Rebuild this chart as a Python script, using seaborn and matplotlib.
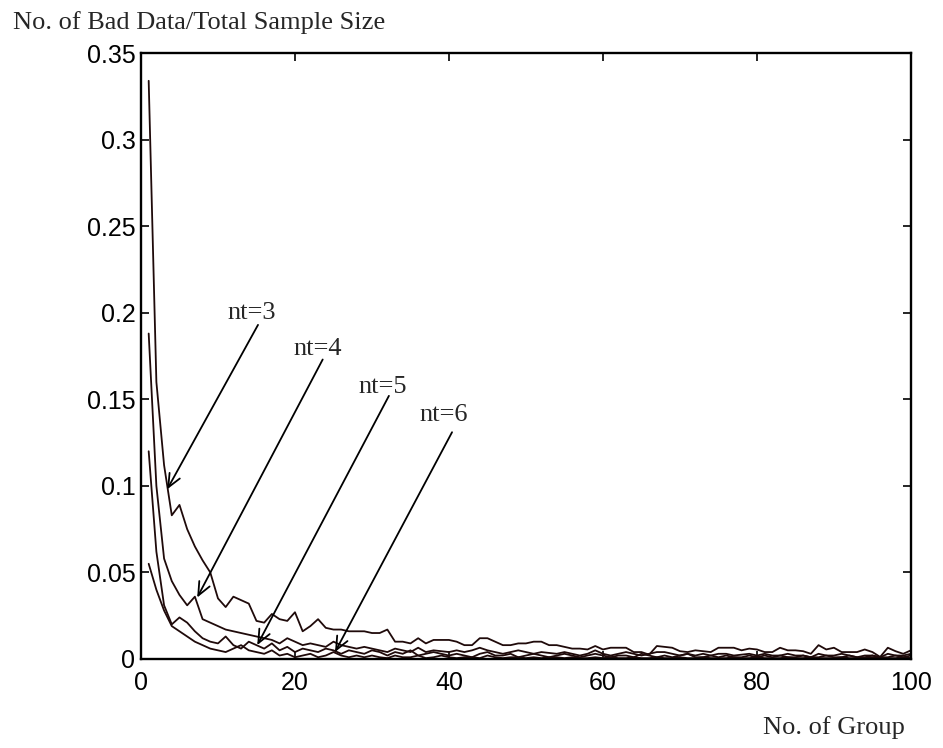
import pandas as pd
import matplotlib
matplotlib.use("Agg")
import matplotlib.pyplot as plt
import seaborn as sns

# ratio of bad data vs. number of groups, one series per nt
groups = list(range(1, 101))

nt3 = [0.334, 0.160, 0.112, 0.083, 0.089, 0.075, 0.065, 0.057, 0.050, 0.035,
       0.030, 0.036, 0.034, 0.032, 0.022, 0.021, 0.026, 0.023, 0.022, 0.027,
       0.016, 0.019, 0.023, 0.018, 0.017, 0.017, 0.016, 0.016, 0.016, 0.015,
       0.015, 0.017, 0.010, 0.010, 0.009, 0.012, 0.009, 0.011, 0.011, 0.011,
       0.010, 0.008, 0.008, 0.012, 0.012, 0.010, 0.008, 0.008, 0.009, 0.009,
       0.010, 0.010, 0.008, 0.008, 0.007, 0.006, 0.006, 0.0055, 0.0075, 0.0055,
       0.0065, 0.0065, 0.0065, 0.004, 0.004, 0.0025, 0.0075, 0.007, 0.0065, 0.0045,
       0.004, 0.005, 0.0045, 0.004, 0.0065, 0.0065, 0.0065, 0.005, 0.006, 0.0055,
       0.004, 0.004, 0.0065, 0.005, 0.005, 0.0045, 0.003, 0.008, 0.0055, 0.0065,
       0.004, 0.004, 0.004, 0.0055, 0.004, 0.0012, 0.0065, 0.0045, 0.003, 0.005]

nt4 = [0.188, 0.100, 0.058, 0.045, 0.037, 0.031, 0.036, 0.023, 0.021, 0.019,
       0.017, 0.016, 0.015, 0.014, 0.013, 0.012, 0.011, 0.009, 0.012, 0.010,
       0.008, 0.009, 0.008, 0.007, 0.010, 0.008, 0.007, 0.006, 0.007, 0.006,
       0.005, 0.004, 0.006, 0.005, 0.004, 0.0065, 0.004, 0.005, 0.0045, 0.004,
       0.005, 0.004, 0.005, 0.0065, 0.005, 0.004, 0.003, 0.004, 0.005, 0.004,
       0.003, 0.004, 0.0035, 0.003, 0.004, 0.003, 0.002, 0.003, 0.005, 0.003,
       0.002, 0.003, 0.004, 0.003, 0.002, 0.003, 0.004, 0.004, 0.003, 0.002,
       0.003, 0.002, 0.003, 0.002, 0.003, 0.003, 0.002, 0.0025, 0.003, 0.002,
       0.003, 0.002, 0.002, 0.003, 0.002, 0.002, 0.001, 0.003, 0.002, 0.002,
       0.003, 0.002, 0.001, 0.002, 0.002, 0.001, 0.003, 0.002, 0.002, 0.003]

nt5 = [0.120, 0.062, 0.031, 0.020, 0.024, 0.021, 0.016, 0.012, 0.010, 0.009,
       0.013, 0.008, 0.006, 0.010, 0.008, 0.006, 0.009, 0.005, 0.007, 0.004,
       0.006, 0.005, 0.004, 0.006, 0.005, 0.003, 0.005, 0.004, 0.003, 0.005,
       0.004, 0.002, 0.004, 0.003, 0.005, 0.002, 0.003, 0.004, 0.003, 0.002,
       0.003, 0.002, 0.001, 0.003, 0.004, 0.002, 0.002, 0.003, 0.001, 0.002,
       0.003, 0.002, 0.001, 0.002, 0.003, 0.002, 0.001, 0.002, 0.003, 0.002,
       0.001, 0.002, 0.002, 0.001, 0.003, 0.002, 0.001, 0.002, 0.001, 0.002,
       0.003, 0.001, 0.001, 0.002, 0.001, 0.002, 0.001, 0.001, 0.002, 0.001,
       0.002, 0.001, 0.002, 0.001, 0.001, 0.002, 0.001, 0.001, 0.002, 0.001,
       0.001, 0.002, 0.001, 0.001, 0.002, 0.001, 0.001, 0.002, 0.001, 0.002]

nt6 = [0.055, 0.040, 0.028, 0.019, 0.016, 0.013, 0.010, 0.008, 0.006, 0.005,
       0.004, 0.006, 0.008, 0.005, 0.004, 0.003, 0.005, 0.002, 0.003, 0.001,
       0.002, 0.003, 0.001, 0.002, 0.004, 0.002, 0.001, 0.002, 0.001, 0.002,
       0.001, 0.0005, 0.002, 0.001, 0.001, 0.002, 0.0005, 0.001, 0.002, 0.001,
       0.0005, 0.001, 0.001, 0.0005, 0.002, 0.001, 0.0005, 0.001, 0.001, 0.0005,
       0.001, 0.0005, 0.001, 0.001, 0.0005, 0.001, 0.0005, 0.0005, 0.001, 0.0005,
       0.001, 0.0005, 0.0005, 0.001, 0.0005, 0.0005, 0.001, 0.0005, 0.0005, 0.001,
       0.0005, 0.0005, 0.001, 0.0005, 0.0005, 0.0005, 0.001, 0.0005, 0.0005, 0.001,
       0.0005, 0.0005, 0.0005, 0.001, 0.0005, 0.0005, 0.001, 0.0005, 0.0005, 0.0005,
       0.001, 0.0005, 0.0005, 0.0005, 0.001, 0.0005, 0.0005, 0.0005, 0.001, 0.0005]

series_names = ["nt=3", "nt=4", "nt=5", "nt=6"]
# arrow tips on the curves and where the labels sit
arrow_tips = [(3.4, 0.098), (7.3, 0.0355), (15.1, 0.008), (25.2, 0.004)]
arrow_tails = [(15.2, 0.193), (23.6, 0.173), (32.2, 0.152), (40.4, 0.131)]
label_pos = [(14.4, 0.200), (22.9, 0.179), (31.4, 0.157), (39.3, 0.141)]

x_ticks = [0, 20, 40, 60, 80, 100]
y_ticks = [0, 0.05, 0.1, 0.15, 0.2, 0.25, 0.3, 0.35]
y_tick_labels = ["0", "0.05", "0.1", "0.15", "0.2", "0.25", "0.3", "0.35"]

df = pd.DataFrame({
    "group": groups * 4,
    "ratio": nt3 + nt4 + nt5 + nt6,
    "nt": [n for n in series_names for _ in groups],
})

sns.set_style("ticks")
plt.rcParams["font.family"] = ["Liberation Sans", "DejaVu Sans"]

line_col = "#1f0a0a"
serif = ["Liberation Serif", "DejaVu Serif"]

fig = plt.figure(figsize=(9.43, 7.48), dpi=100)
ax = fig.add_axes([0.1495, 0.119, 0.8165, 0.810])

sns.lineplot(data=df, x="group", y="ratio", hue="nt",
             palette=[line_col] * 4, linewidth=1.3, legend=False, ax=ax)

ax.set_xlim(0, 100)
ax.set_ylim(0, 0.35)
ax.set_xticks(x_ticks)
ax.set_xticklabels([str(t) for t in x_ticks])
ax.set_yticks(y_ticks)
ax.set_yticklabels(y_tick_labels)
ax.set_xlabel("")
ax.set_ylabel("")
ax.tick_params(direction="in", length=6, width=1.2, top=True, right=True,
               labelsize=18, colors="black")
ax.tick_params(axis="x", pad=9)
ax.tick_params(axis="y", pad=4)
for sp in ax.spines.values():
    sp.set_linewidth(1.7)
    sp.set_color("black")

for name, tip, tail, pos in zip(series_names, arrow_tips, arrow_tails, label_pos):
    ax.annotate("", xy=tip, xytext=tail,
                arrowprops=dict(arrowstyle="->,head_length=0.8,head_width=0.35",
                                color="black", lw=1.3, shrinkA=0, shrinkB=0,
                                mutation_scale=12))
    ax.text(pos[0], pos[1], name, ha="center", va="center",
            fontsize=19, family=serif)

fig.text(13 / 943, 1 - 23 / 748, "No. of Bad Data/Total Sample Size",
         ha="left", va="center", fontsize=19, family=serif)
fig.text(763 / 943, 1 - 728 / 748, "No. of Group",
         ha="left", va="center", fontsize=19, family=serif)

fig.savefig("out.png", dpi=100)
